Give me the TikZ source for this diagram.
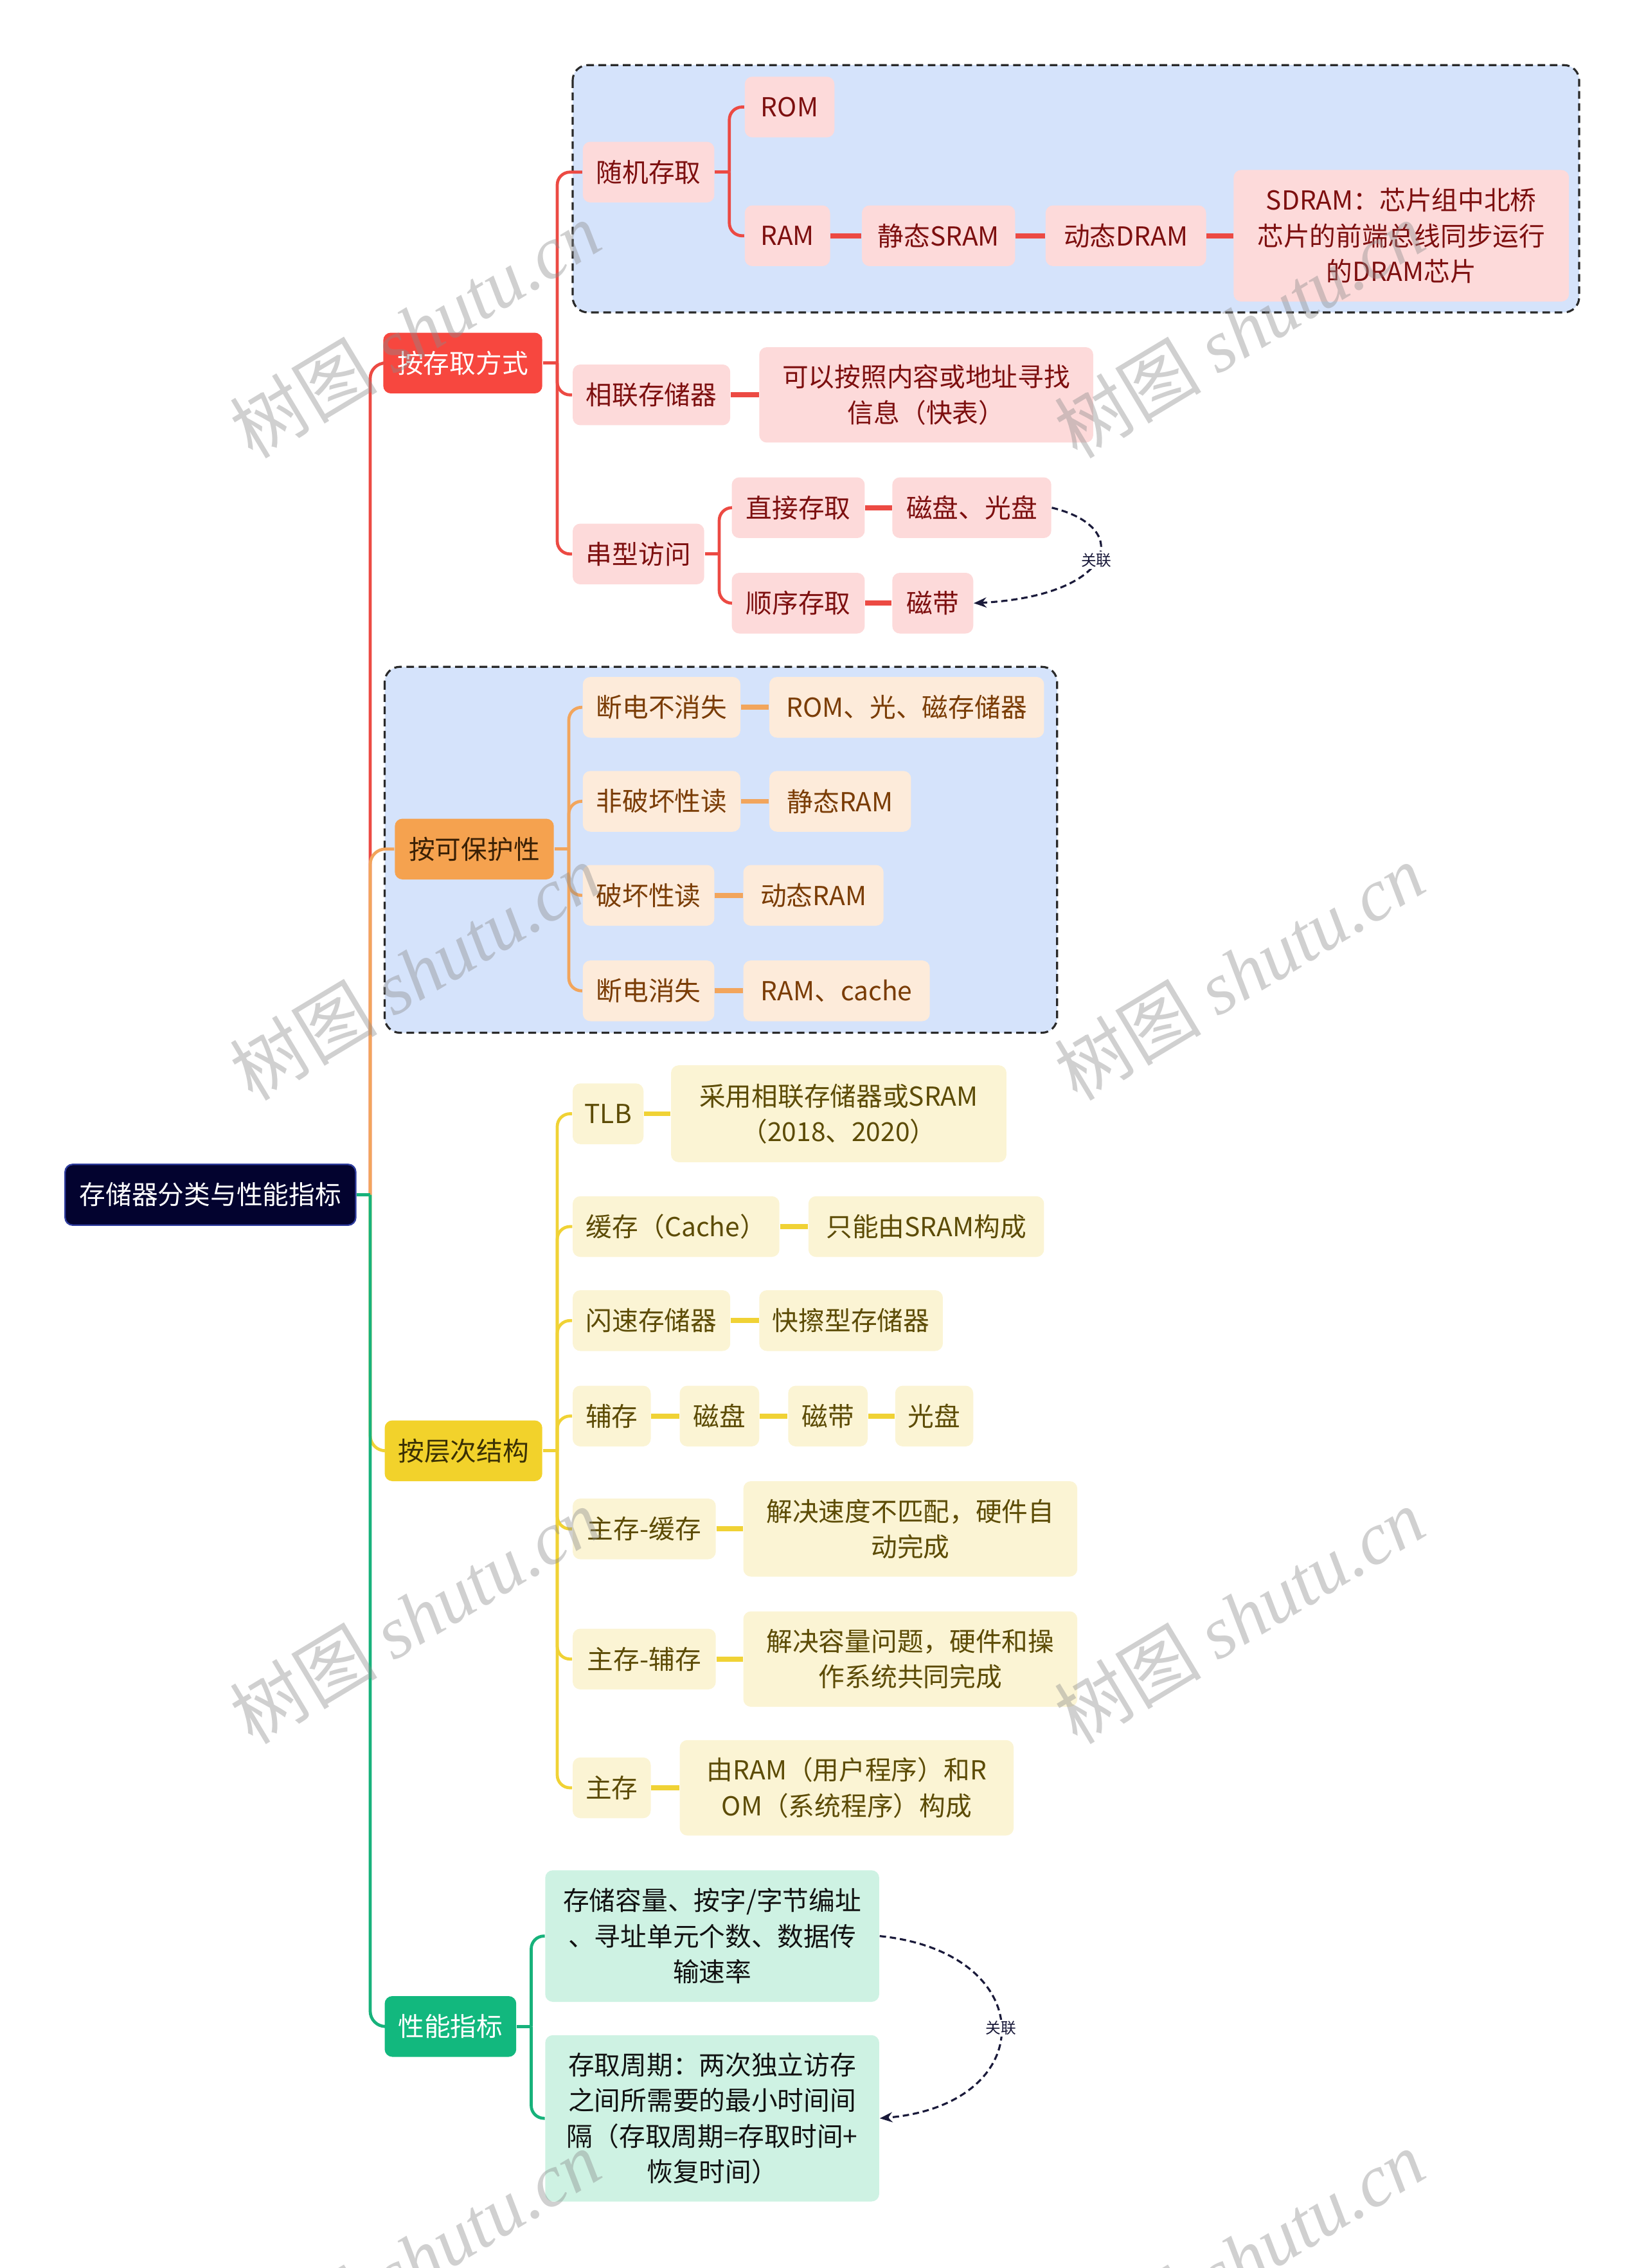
\documentclass[tikz,border=0pt]{standalone}
\usepackage{fontspec}
\setmainfont{Noto Sans CJK SC}
\newfontfamily\wmlatin{Liberation Serif}
\usetikzlibrary{arrows.meta}
\tikzset{>=latex}

\definecolor{cRoot}{HTML}{03032F}
\definecolor{cRootEdge}{HTML}{2E3C9E}
\definecolor{cRed}{HTML}{F7473F}
\definecolor{cRedLine}{HTML}{EC4A43}
\definecolor{cRedSub}{HTML}{FDDADA}
\definecolor{cRedTxt}{HTML}{7D0F0F}
\definecolor{cOrg}{HTML}{F5A24F}
\definecolor{cOrgLine}{HTML}{F2A55C}
\definecolor{cOrgSub}{HTML}{FDEBDA}
\definecolor{cOrgTxt}{HTML}{7A3C05}
\definecolor{cOrgMainTxt}{HTML}{3A2005}
\definecolor{cYlw}{HTML}{F2D22B}
\definecolor{cYlwLine}{HTML}{F0D235}
\definecolor{cYlwSub}{HTML}{FBF4D4}
\definecolor{cYlwTxt}{HTML}{5C4B05}
\definecolor{cYlwMainTxt}{HTML}{3A3005}
\definecolor{cGrn}{HTML}{12B87E}
\definecolor{cGrnLine}{HTML}{17B27B}
\definecolor{cGrnSub}{HTML}{CEF2E3}
\definecolor{cGrnTxt}{HTML}{111111}
\definecolor{cGroup}{HTML}{D5E3FB}
\definecolor{cGroupEdge}{HTML}{2A2A2A}
\definecolor{cRel}{HTML}{1A1A3A}
\definecolor{cMark}{HTML}{8A8A8A}

\begin{document}
\begin{tikzpicture}[x=0.02cm, y=-0.02cm, font=\fontsize{10.3}{14}\selectfont,
    box/.style={rounded corners=3pt, inner sep=0pt, minimum height=0.84cm, align=center},
    rootnode/.style={box, fill=cRoot, draw=cRootEdge, line width=0.6pt, text=white},
    redmain/.style={box, fill=cRed, text=white},
    redsub/.style={box, fill=cRedSub, text=cRedTxt},
    orgmain/.style={box, fill=cOrg, text=cOrgMainTxt},
    orgsub/.style={box, fill=cOrgSub, text=cOrgTxt},
    ylwmain/.style={box, fill=cYlw, text=cYlwMainTxt},
    ylwsub/.style={box, fill=cYlwSub, text=cYlwTxt},
    grnmain/.style={box, fill=cGrn, text=white},
    grnsub/.style={box, fill=cGrnSub, text=cGrnTxt},
    grpbox/.style={fill=cGroup, draw=cGroupEdge, line width=0.8pt, dash pattern=on 3pt off 1.8pt, rounded corners=6pt},
    trunk/.style={line width=1.2pt, rounded corners=6pt},
    fork/.style={line width=1.2pt, rounded corners=5pt},
    chain/.style={line width=2pt},
    redln/.style={draw=cRedLine}, orgln/.style={draw=cOrgLine},
    ylwln/.style={draw=cYlwLine}, grnln/.style={draw=cGrnLine},
    rel/.style={draw=cRel, line width=0.8pt, dash pattern=on 2.5pt off 1.5pt, -{Stealth[length=5pt,width=4pt]}},
    rellabel/.style={fill=white, inner sep=0.6pt, text=cRel, font=\fontsize{6}{7}\selectfont},
    wmark/.style={rotate=31, text=cMark, opacity=0.4, font=\fontsize{29}{30}\selectfont}]
  \useasboundingbox (0,0) rectangle (1138,1568);
  % groups
  \draw[grpbox] (396,45) rectangle (1092,216);
  \draw[grpbox] (266,461) rectangle (731,714);
  % root and main topics
  \node[rootnode, minimum width=4.02cm] (root) at (145.5,826) {存储器分类与性能指标};
  \node[redmain, minimum width=2.2cm] (cqfs) at (320,251) {按存取方式};
  \node[orgmain, minimum width=2.2cm] (bhx) at (328,587) {按可保护性};
  \node[ylwmain, minimum width=2.18cm] (ccjg) at (320.5,1003) {按层次结构};
  \node[grnmain, minimum width=1.82cm] (xnzb) at (311.5,1401) {性能指标};
  % 按存取方式
  \node[redsub, minimum width=1.82cm] (sjcq) at (448.5,119) {随机存取};
  \node[redsub, minimum width=1.24cm] (rom) at (546,74) {ROM};
  \node[redsub, minimum width=1.18cm] (ram) at (544.5,163) {RAM};
  \node[redsub, minimum width=2.12cm] (sram) at (649,163) {静态SRAM};
  \node[redsub, minimum width=2.22cm] (dram) at (778.5,163) {动态DRAM};
  \node[redsub, minimum width=4.64cm, minimum height=1.82cm] (sdram) at (969,163) {SDRAM：芯片组中北桥\\芯片的前端总线同步运行\\的DRAM芯片};
  \node[redsub, minimum width=2.18cm] (xlcc) at (450.5,273) {相联存储器};
  \node[redsub, minimum width=4.62cm, minimum height=1.32cm] (kb) at (640.5,273) {可以按照内容或地址寻找\\信息（快表）};
  \node[redsub, minimum width=1.82cm] (cxfw) at (441.5,383) {串型访问};
  \node[redsub, minimum width=1.84cm] (zjcq) at (552,351) {直接存取};
  \node[redsub, minimum width=2.2cm] (cpgp) at (672,351) {磁盘、光盘};
  \node[redsub, minimum width=1.84cm] (sxcq) at (552,417) {顺序存取};
  \node[redsub, minimum width=1.12cm] (cd) at (645,417) {磁带};
  % 按可保护性
  \node[orgsub, minimum width=2.18cm] (bxs) at (457.5,489) {断电不消失};
  \node[orgsub, minimum width=3.8cm] (bxsx) at (627,489) {ROM、光、磁存储器};
  \node[orgsub, minimum width=2.18cm] (fphd) at (457.5,554) {非破坏性读};
  \node[orgsub, minimum width=1.96cm] (jtram) at (581,554) {静态RAM};
  \node[orgsub, minimum width=1.82cm] (phd) at (448.5,619) {破坏性读};
  \node[orgsub, minimum width=1.94cm] (dtram) at (562.5,619) {动态RAM};
  \node[orgsub, minimum width=1.82cm] (dxs) at (448.5,685) {断电消失};
  \node[orgsub, minimum width=2.58cm] (rcache) at (578.5,685) {RAM、cache};
  % 按层次结构
  \node[ylwsub, minimum width=0.98cm] (tlb) at (420.5,770) {TLB};
  \node[ylwsub, minimum width=4.64cm, minimum height=1.34cm] (tlbx) at (580,770) {采用相联存储器或SRAM\\（2018、2020）};
  \node[ylwsub, minimum width=2.86cm] (hc) at (467.5,848) {缓存（Cache）};
  \node[ylwsub, minimum width=3.26cm] (hcx) at (640.5,848) {只能由SRAM构成};
  \node[ylwsub, minimum width=2.18cm] (sscc) at (450.5,913) {闪速存储器};
  \node[ylwsub, minimum width=2.54cm] (kcx) at (588.5,913) {快擦型存储器};
  \node[ylwsub, minimum width=1.08cm] (fc) at (423,979) {辅存};
  \node[ylwsub, minimum width=1.1cm] (fcp) at (497.5,979) {磁盘};
  \node[ylwsub, minimum width=1.1cm] (fcd) at (572.5,979) {磁带};
  \node[ylwsub, minimum width=1.08cm] (fgp) at (646,979) {光盘};
  \node[ylwsub, minimum width=1.98cm] (zchc) at (445.5,1057) {主存-缓存};
  \node[ylwsub, minimum width=4.62cm, minimum height=1.32cm] (zchcx) at (629.5,1057) {解决速度不匹配，硬件自\\动完成};
  \node[ylwsub, minimum width=1.98cm] (zcfc) at (445.5,1147) {主存-辅存};
  \node[ylwsub, minimum width=4.62cm, minimum height=1.32cm] (zcfcx) at (629.5,1147) {解决容量问题，硬件和操\\作系统共同完成};
  \node[ylwsub, minimum width=1.08cm] (zc) at (423,1236) {主存};
  \node[ylwsub, minimum width=4.62cm, minimum height=1.32cm] (zcx) at (585.5,1236) {由RAM（用户程序）和R\\OM（系统程序）构成};
  % 性能指标
  \node[grnsub, minimum width=4.62cm, minimum height=1.82cm] (rl) at (492.5,1338.5) {存储容量、按字/字节编址\\、寻址单元个数、数据传\\输速率};
  \node[grnsub, minimum width=4.62cm, minimum height=2.3cm] (zq) at (492.5,1464.5) {存取周期：两次独立访存\\之间所需要的最小时间间\\隔（存取周期=存取时间+\\恢复时间）};
  % trunk
  \coordinate (t0) at (256,826);
  \draw[trunk, redln] (t0) |- (cqfs.west);
  \draw[trunk, orgln] (t0) |- (bhx.west);
  \draw[trunk, ylwln] (t0) |- (ccjg.west);
  \draw[trunk, grnln] (t0) |- (xnzb.west);
  \draw[trunk, grnln] (root.east) -- (t0);
  % red connectors
  \draw[fork, redln] (cqfs.east) -- ++(10,0) coordinate (f1);
  \draw[fork, redln] (f1) |- (sjcq.west);
  \draw[fork, redln] (f1) |- (xlcc.west);
  \draw[fork, redln] (f1) |- (cxfw.west);
  \draw[fork, redln] (sjcq.east) -- ++(10,0) coordinate (f2);
  \draw[fork, redln] (f2) |- (rom.west);
  \draw[fork, redln] (f2) |- (ram.west);
  \draw[chain, redln] (ram.east) -- (sram.west);
  \draw[chain, redln] (sram.east) -- (dram.west);
  \draw[chain, redln] (dram.east) -- (sdram.west);
  \draw[chain, redln] (xlcc.east) -- (kb.west);
  \draw[fork, redln] (cxfw.east) -- ++(10,0) coordinate (f3);
  \draw[fork, redln] (f3) |- (zjcq.west);
  \draw[fork, redln] (f3) |- (sxcq.west);
  \draw[chain, redln] (zjcq.east) -- (cpgp.west);
  \draw[chain, redln] (sxcq.east) -- (cd.west);
  % orange connectors
  \draw[fork, orgln] (bhx.east) -- ++(10,0) coordinate (f4);
  \draw[fork, orgln] (f4) |- (bxs.west);
  \draw[fork, orgln] (f4) |- (fphd.west);
  \draw[fork, orgln] (f4) |- (phd.west);
  \draw[fork, orgln] (f4) |- (dxs.west);
  \draw[chain, orgln] (bxs.east) -- (bxsx.west);
  \draw[chain, orgln] (fphd.east) -- (jtram.west);
  \draw[chain, orgln] (phd.east) -- (dtram.west);
  \draw[chain, orgln] (dxs.east) -- (rcache.west);
  % yellow connectors
  \draw[fork, ylwln] (ccjg.east) -- ++(10,0) coordinate (f5);
  \draw[fork, ylwln] (f5) |- (tlb.west);
  \draw[fork, ylwln] (f5) |- (hc.west);
  \draw[fork, ylwln] (f5) |- (sscc.west);
  \draw[fork, ylwln] (f5) |- (fc.west);
  \draw[fork, ylwln] (f5) |- (zchc.west);
  \draw[fork, ylwln] (f5) |- (zcfc.west);
  \draw[fork, ylwln] (f5) |- (zc.west);
  \draw[chain, ylwln] (tlb.east) -- (tlbx.west);
  \draw[chain, ylwln] (hc.east) -- (hcx.west);
  \draw[chain, ylwln] (sscc.east) -- (kcx.west);
  \draw[chain, ylwln] (fc.east) -- (fcp.west);
  \draw[chain, ylwln] (fcp.east) -- (fcd.west);
  \draw[chain, ylwln] (fcd.east) -- (fgp.west);
  \draw[chain, ylwln] (zchc.east) -- (zchcx.west);
  \draw[chain, ylwln] (zcfc.east) -- (zcfcx.west);
  \draw[chain, ylwln] (zc.east) -- (zcx.west);
  % green connectors
  \draw[fork, grnln] (xnzb.east) -- ++(10,0) coordinate (f6);
  \draw[fork, grnln] (f6) |- (rl.west);
  \draw[fork, grnln] (f6) |- (zq.west);
  % relations
  \draw[rel] (cpgp.east) .. controls (785,365) and (770,412) .. (cd.east) node[rellabel, pos=0.5] (gl1) {关联};
  \draw[rel] (rl.east) .. controls (720,1350) and (720,1455) .. (zq.east) node[rellabel, pos=0.5] (gl2) {关联};
  % watermarks
  \node[wmark] (wm1) at (287,228) {树图 {\wmlatin\itshape shutu.cn}};
  \node[wmark] (wm2) at (857,228) {树图 {\wmlatin\itshape shutu.cn}};
  \node[wmark] (wm3) at (287,672) {树图 {\wmlatin\itshape shutu.cn}};
  \node[wmark] (wm4) at (857,672) {树图 {\wmlatin\itshape shutu.cn}};
  \node[wmark] (wm5) at (287,1117) {树图 {\wmlatin\itshape shutu.cn}};
  \node[wmark] (wm6) at (857,1117) {树图 {\wmlatin\itshape shutu.cn}};
  \node[wmark] (wm7) at (287,1561) {树图 {\wmlatin\itshape shutu.cn}};
  \node[wmark] (wm8) at (857,1561) {树图 {\wmlatin\itshape shutu.cn}};
\end{tikzpicture}
\end{document}
